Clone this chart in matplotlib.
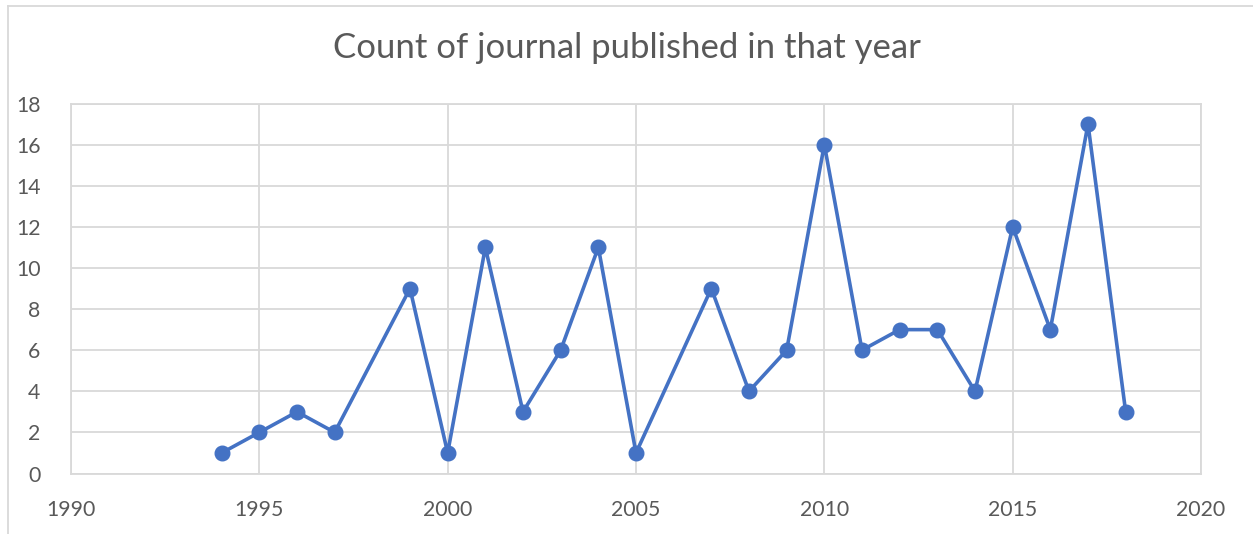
import matplotlib
matplotlib.use("Agg")
import matplotlib.pyplot as plt
from matplotlib.lines import Line2D

years = [1994, 1995, 1996, 1997, 1999, 2000, 2001, 2002, 2003, 2004, 2005,
         2007, 2008, 2009, 2010, 2011, 2012, 2013, 2014, 2015, 2016, 2017, 2018]
counts = [1, 2, 3, 2, 9, 1, 11, 3, 6, 11, 1,
          9, 4, 6, 16, 6, 7, 7, 4, 12, 7, 17, 3]
x_ticks = [1990, 1995, 2000, 2005, 2010, 2015, 2020]
y_ticks = [0, 2, 4, 6, 8, 10, 12, 14, 16, 18]
title = "Count of journal published in that year"

plt.rcParams['font.family'] = ['Lato', 'DejaVu Sans']
W, H = 1253, 534
fig = plt.figure(figsize=(W / 100, H / 100), dpi=100)
ax = fig.add_axes([71 / W, 1 - 473.5 / H, (1201 - 71) / W, (473.5 - 103.5) / H])

line_color = "#4472C4"
grid_color = "#D9D9D9"
text_color = "#595959"

ax.plot(years, counts, color=line_color, linewidth=2.6, marker="o",
        markersize=10.5, markerfacecolor=line_color, markeredgecolor=line_color,
        zorder=3, clip_on=False)

ax.set_xlim(1990, 2020)
ax.set_ylim(0, 18)
ax.set_xticks(x_ticks)
ax.set_yticks(y_ticks)
ax.set_xticklabels([str(t) for t in x_ticks])
ax.set_yticklabels([str(t) for t in y_ticks])
ax.grid(True, color=grid_color, linewidth=1.3)
ax.set_axisbelow(True)
for s in ax.spines.values():
    s.set_color(grid_color)
    s.set_linewidth(1.3)
ax.tick_params(length=0, labelsize=15.3, labelcolor=text_color)
ax.tick_params(axis="x", pad=19)
ax.tick_params(axis="y", pad=22)

fig.text(0.5, 1 - 48 / H, title, ha="center", va="center",
         fontsize=25, color=text_color)

# chart frame
fig.add_artist(Line2D([7.5 / W, 7.5 / W], [0, 1 - 5.5 / H],
                      transform=fig.transFigure, color=grid_color, linewidth=1.3))
fig.add_artist(Line2D([7.5 / W, 1], [1 - 5.5 / H, 1 - 5.5 / H],
                      transform=fig.transFigure, color=grid_color, linewidth=1.3))

fig.savefig("out.png", dpi=100, facecolor="white")
